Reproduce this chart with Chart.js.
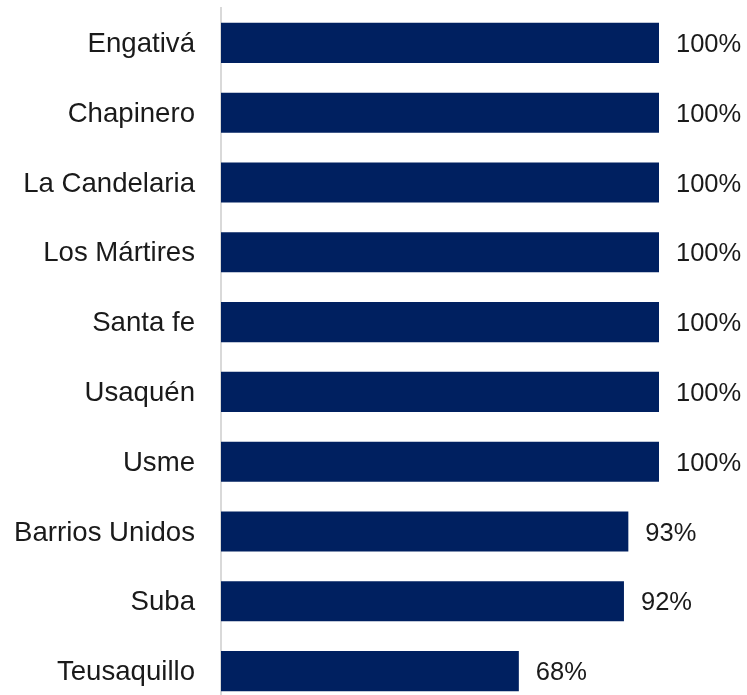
<!DOCTYPE html>
<html lang="es">
  <head>
    <meta charset="UTF-8" />
    <meta name="viewport" content="width=device-width, initial-scale=1.0" />
    <script src="https://cdn.jsdelivr.net/npm/chart.js"></script>
    <title>Localidades</title>
    <style>
      html, body { margin: 0; padding: 0; background: #fff; overflow: hidden; }
    </style>
  </head>
  <body>
    <canvas id="myChart" width="747" height="715"></canvas>
    <script>
      // datos
      const localidades = [
        "Engativá",
        "Chapinero",
        "La Candelaria",
        "Los Mártires",
        "Santa fe",
        "Usaquén",
        "Usme",
        "Barrios Unidos",
        "Suba",
        "Teusaquillo",
      ];
      const porcentajes = [100, 100, 100, 100, 100, 100, 100, 93, 92, 68];

      const fuente = "'Liberation Sans', Arial, sans-serif";
      const colorTexto = "#1a1a1a";

      // etiquetas de valor al final de cada barra
      const etiquetas = {
        id: "etiquetas",
        afterDatasetsDraw(chart) {
          const ctx = chart.ctx;
          const meta = chart.getDatasetMeta(0);
          ctx.save();
          ctx.font = "25.5px " + fuente;
          ctx.fillStyle = colorTexto;
          ctx.textAlign = "left";
          ctx.textBaseline = "middle";
          meta.data.forEach((bar, i) => {
            ctx.fillText(porcentajes[i] + "%", bar.x + 17, bar.y + 2);
          });
          ctx.restore();
        },
      };

      new Chart(document.getElementById("myChart"), {
        type: "bar",
        data: {
          labels: localidades,
          datasets: [
            {
              data: porcentajes,
              backgroundColor: "#002060",
              borderWidth: 0,
              barPercentage: 0.575,
              categoryPercentage: 1,
            },
          ],
        },
        options: {
          indexAxis: "y",
          responsive: false,
          animation: false,
          layout: { padding: { top: 8, bottom: 9, right: 88, left: 0 } },
          plugins: {
            legend: { display: false },
            tooltip: { enabled: false },
          },
          scales: {
            x: {
              display: false,
              min: 0,
              max: 100,
            },
            y: {
              afterFit(scale) {
                scale.width = 221;
                scale.paddingTop = 0;
                scale.paddingBottom = 0;
              },
              grid: { display: false, drawTicks: false },
              border: { display: true, color: "#d9d9d9", width: 2 },
              ticks: {
                padding: 26,
                labelOffset: 1.5,
                color: colorTexto,
                font: { family: fuente, size: 27.6 },
              },
            },
          },
        },
        plugins: [etiquetas],
      });
    </script>
  </body>
</html>
